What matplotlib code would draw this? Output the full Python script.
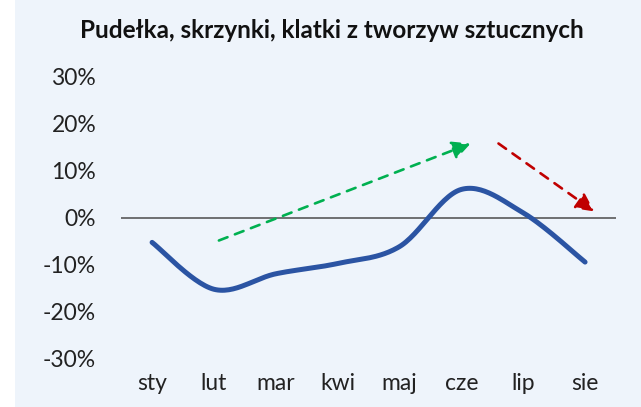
import numpy as np
import matplotlib
matplotlib.use("Agg")
import matplotlib.pyplot as plt
from matplotlib.ticker import FuncFormatter

months = ["sty", "lut", "mar", "kwi", "maj", "cze", "lip", "sie"]
values = [-5.3, -15.3, -12.0, -9.8, -6.2, 6.0, 1.0, -9.5]

# trend arrows (x in month index, y in %)
green_arrow = [(1.08, -4.9), (5.15, 15.8)]
red_arrow = [(5.6, 15.8), (7.15, 1.3)]

title = "Pudełka, skrzynki, klatki z tworzyw sztucznych"


def smooth(xs, ys, n=30):
    # Excel-like smoothed line (Catmull-Rom as cubic Bezier)
    pts = np.column_stack([xs, ys]).astype(float)
    out = []
    for i in range(len(pts) - 1):
        p0 = pts[max(i - 1, 0)]
        p1 = pts[i]
        p2 = pts[i + 1]
        p3 = pts[min(i + 2, len(pts) - 1)]
        c1 = p1 + (p2 - p0) / 6
        c2 = p2 - (p3 - p1) / 6
        t = np.linspace(0, 1, n)[:, None]
        seg = (1 - t) ** 3 * p1 + 3 * (1 - t) ** 2 * t * c1 + 3 * (1 - t) * t ** 2 * c2 + t ** 3 * p2
        out.append(seg if i == 0 else seg[1:])
    out = np.vstack(out)
    return out[:, 0], out[:, 1]


plt.rcParams['font.family'] = ['Lato', 'DejaVu Sans']
bg = "#EEF4FB"

fig = plt.figure(figsize=(6.41, 4.07), dpi=100)
fig.patch.set_facecolor("white")
fig.patches.append(plt.Rectangle((15 / 641, 0), 1, 1, transform=fig.transFigure,
                                 facecolor=bg, edgecolor="none", zorder=-10))

ax = fig.add_axes([0.189, 0.120, 0.772, 0.691])
ax.set_zorder(5)
ax.set_facecolor("none")

x = np.arange(len(months))
sx, sy = smooth(x, values)
ax.axhline(0, color="#595959", lw=1.2, zorder=1)
ax.plot(sx, sy, color="#2B54A3", lw=3.6, solid_capstyle="round", zorder=3)

for (start, end), col in [(green_arrow, "#00B050"), (red_arrow, "#C00000")]:
    ax.annotate("", xy=end, xytext=start,
                arrowprops=dict(arrowstyle="-|>,head_length=1.1,head_width=0.55",
                                color=col, lw=1.9, ls=(0, (3.5, 3)), shrinkA=0, shrinkB=0),
                zorder=2)

ax.set_xlim(-0.5, 7.5)
ax.set_ylim(-30, 30)
ax.set_xticks(x)
ax.set_xticklabels(months)
ax.set_yticks(np.arange(-30, 31, 10))
ax.yaxis.set_major_formatter(FuncFormatter(lambda v, p: "%d%%" % v))
ax.tick_params(length=0, labelsize=16.5, colors="#222222")
ax.tick_params(axis="y", pad=18)
ax.tick_params(axis="x", pad=11)
for s in ax.spines.values():
    s.set_visible(False)

fig.text(0.518, 0.925, title, ha="center", va="center", fontsize=17.5, fontweight="bold", color="#111111")

plt.savefig("out.png", dpi=100, facecolor=fig.get_facecolor())
